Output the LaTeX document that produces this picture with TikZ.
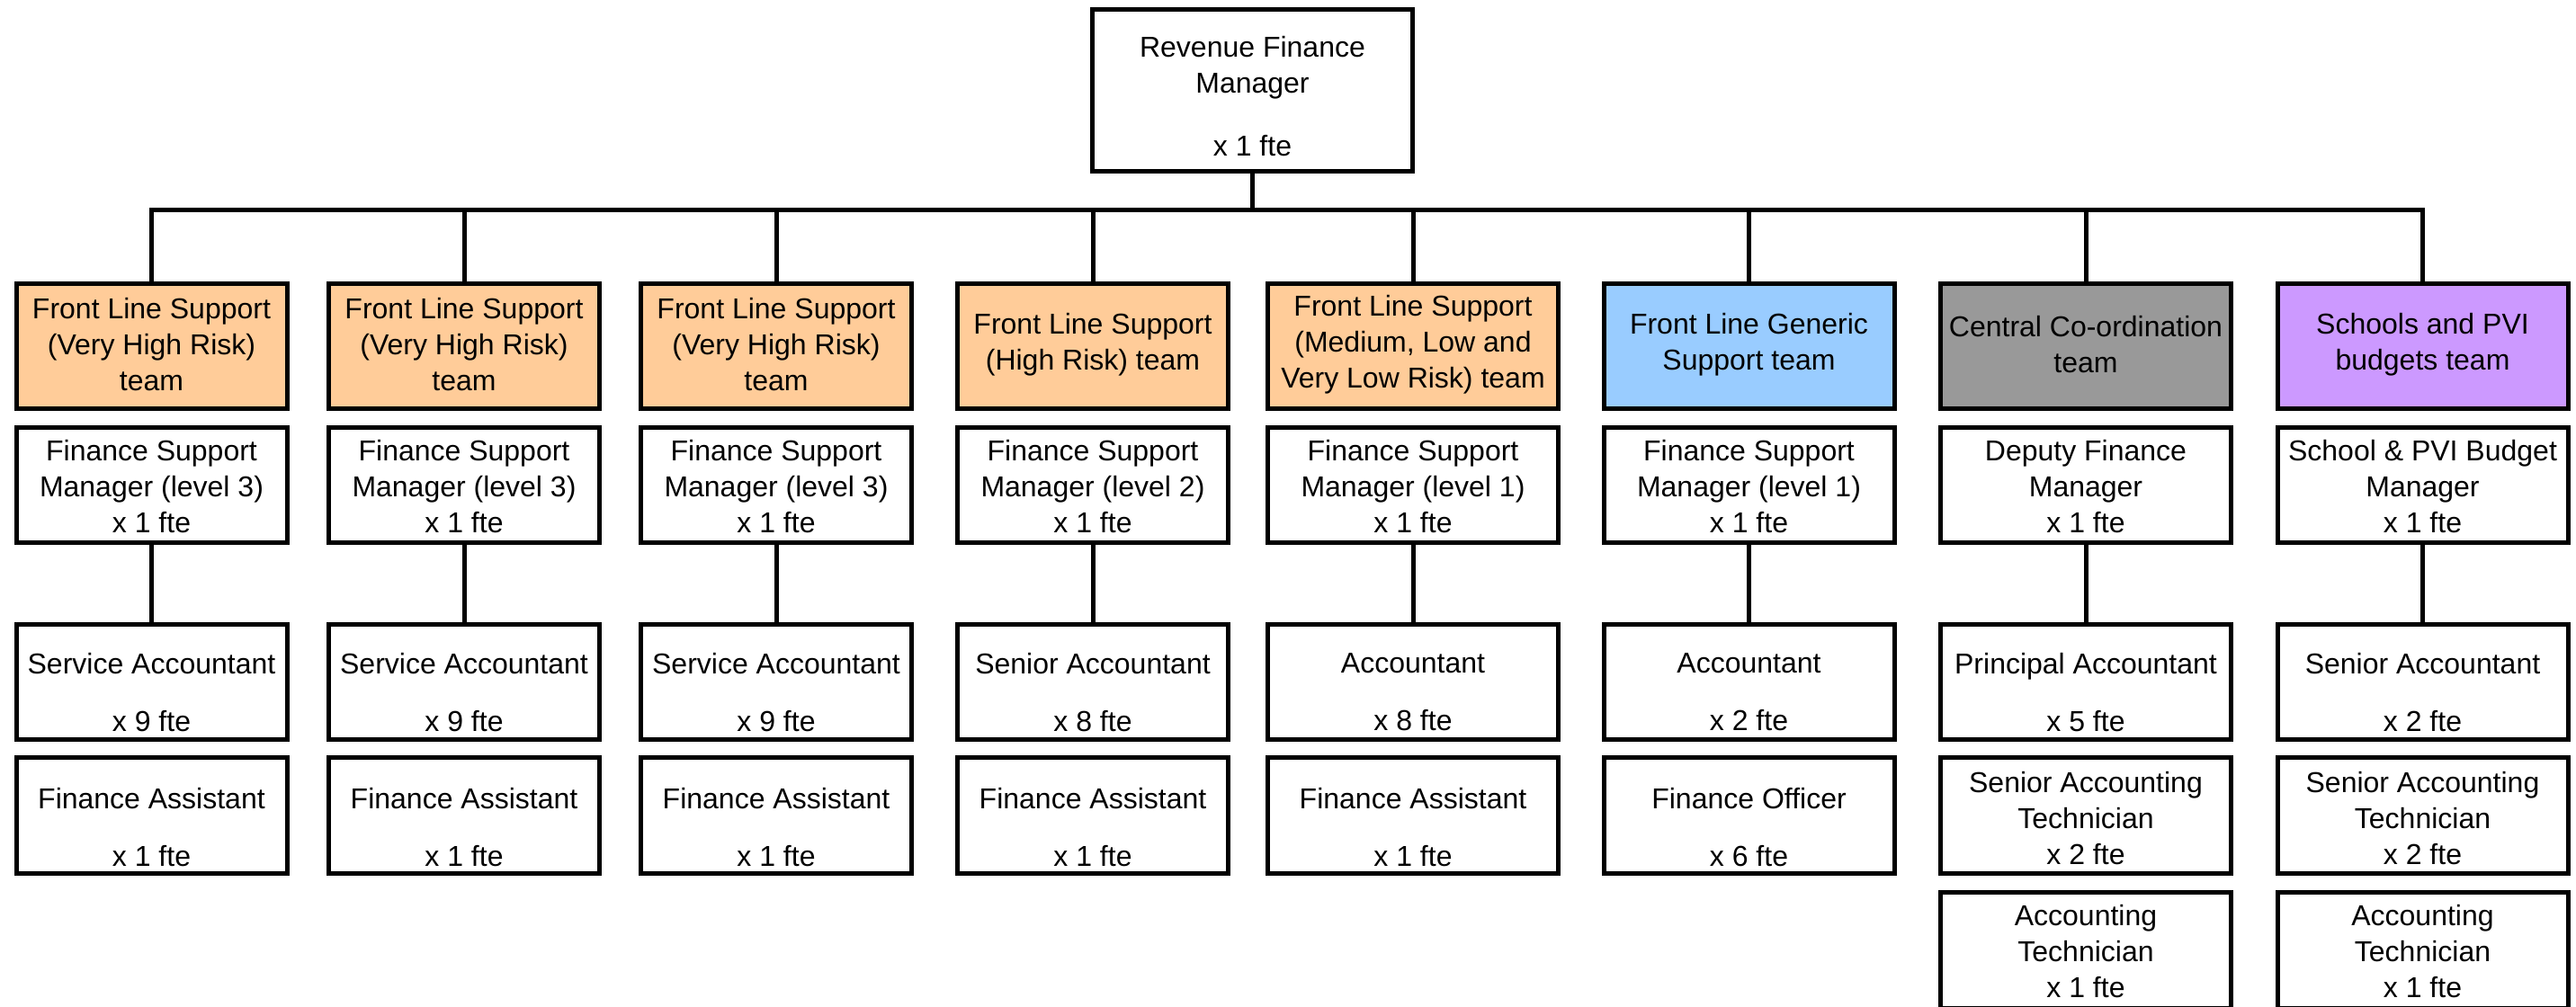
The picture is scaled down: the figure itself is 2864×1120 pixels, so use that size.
\documentclass[tikz,border=0pt]{standalone}
\usepackage{fontspec}
\setmainfont{Liberation Sans}
\definecolor{riskorange}{HTML}{FFCC99}
\definecolor{genericblue}{HTML}{99CCFF}
\definecolor{centralgrey}{HTML}{999999}
\definecolor{schoolviolet}{HTML}{CC99FF}

% box outline node plus its centred caption node
\newcommand\orgbox[6]{%
  \node[box,#2] (#1) at (#3,#4) {};
  \node[txt] (#1-t) at (#3,#5) {#6};}

\begin{document}
\begin{tikzpicture}[x=0.25pt,y=-0.25pt,
  every node/.style={inner sep=0pt,outer sep=0pt},
  box/.style={draw=black,line width=1.25pt,rectangle,fill=white},
  txt/.style={align=center,font=\fontsize{8pt}{10pt}\selectfont},
  narrowcol/.style={minimum width=75.25pt},
  widecol/.style={minimum width=80.75pt},
  teamrow/.style={minimum height=34.75pt},
  rolerow/.style={minimum height=32pt},
  subrow/.style={minimum height=32.25pt},
  link/.style={line width=1.25pt,line join=miter}]

\useasboundingbox (0,0) rectangle (2864,1120);
\clip (0,0) rectangle (2864,1120);

% head of service
\orgbox{top}{minimum width=89pt,minimum height=45pt}{1392.5}{100.5}{107}
  {Revenue Finance\\Manager\\[7.5pt]x 1 fte}

% team headers
\orgbox{t1}{narrowcol,teamrow,fill=riskorange}{168.5}{385}{383}{Front Line Support\\(Very High Risk)\\team}
\orgbox{t2}{narrowcol,teamrow,fill=riskorange}{516}{385}{383}{Front Line Support\\(Very High Risk)\\team}
\orgbox{t3}{narrowcol,teamrow,fill=riskorange}{863}{385}{383}{Front Line Support\\(Very High Risk)\\team}
\orgbox{t4}{narrowcol,teamrow,fill=riskorange}{1215}{385}{383}{Front Line Support\\(High Risk) team}
\orgbox{t5}{widecol,teamrow,fill=riskorange}{1571}{385}{383}{Front Line Support\\(Medium, Low and\\Very Low Risk) team}
\orgbox{t6}{widecol,teamrow,fill=genericblue}{1944.5}{385}{383}{Front Line Generic\\Support team}
\orgbox{t7}{widecol,teamrow,fill=centralgrey}{2319}{385}{383}{Central Co-ordination\\team}
\orgbox{t8}{widecol,teamrow,fill=schoolviolet}{2693.5}{385}{383}{Schools and PVI\\budgets team}

% team managers
\orgbox{m1}{narrowcol,rolerow}{168.5}{539.5}{541}{Finance Support\\Manager (level 3)\\x 1 fte}
\orgbox{m2}{narrowcol,rolerow}{516}{539.5}{541}{Finance Support\\Manager (level 3)\\x 1 fte}
\orgbox{m3}{narrowcol,rolerow}{863}{539.5}{541}{Finance Support\\Manager (level 3)\\x 1 fte}
\orgbox{m4}{narrowcol,rolerow}{1215}{539.5}{541}{Finance Support\\Manager (level 2)\\x 1 fte}
\orgbox{m5}{widecol,rolerow}{1571}{539.5}{541}{Finance Support\\Manager (level 1)\\x 1 fte}
\orgbox{m6}{widecol,rolerow}{1944.5}{539.5}{541}{Finance Support\\Manager (level 1)\\x 1 fte}
\orgbox{m7}{widecol,rolerow}{2319}{539.5}{541}{Deputy Finance\\Manager\\x 1 fte}
\orgbox{m8}{widecol,rolerow}{2693.5}{539.5}{541}{School \& PVI Budget\\Manager\\x 1 fte}

% accountants
\orgbox{a1}{narrowcol,rolerow}{168.5}{758.5}{770}{Service Accountant\\[6pt]x 9 fte}
\orgbox{a2}{narrowcol,rolerow}{516}{758.5}{770}{Service Accountant\\[6pt]x 9 fte}
\orgbox{a3}{narrowcol,rolerow}{863}{758.5}{770}{Service Accountant\\[6pt]x 9 fte}
\orgbox{a4}{narrowcol,rolerow}{1215}{758.5}{770}{Senior Accountant\\[6pt]x 8 fte}
\orgbox{a5}{widecol,rolerow}{1571}{758.5}{770}{Accountant\\[6pt]x 8 fte}
\orgbox{a6}{widecol,rolerow}{1944.5}{758.5}{770}{Accountant\\[6pt]x 2 fte}
\orgbox{a7}{widecol,rolerow}{2319}{758.5}{770}{Principal Accountant\\[6pt]x 5 fte}
\orgbox{a8}{widecol,rolerow}{2693.5}{758.5}{770}{Senior Accountant\\[6pt]x 2 fte}

% assistants and technicians
\orgbox{s1}{narrowcol,subrow}{168.5}{907}{920}{Finance Assistant\\[6pt]x 1 fte}
\orgbox{s2}{narrowcol,subrow}{516}{907}{920}{Finance Assistant\\[6pt]x 1 fte}
\orgbox{s3}{narrowcol,subrow}{863}{907}{920}{Finance Assistant\\[6pt]x 1 fte}
\orgbox{s4}{narrowcol,subrow}{1215}{907}{920}{Finance Assistant\\[6pt]x 1 fte}
\orgbox{s5}{widecol,subrow}{1571}{907}{920}{Finance Assistant\\[6pt]x 1 fte}
\orgbox{s6}{widecol,subrow}{1944.5}{907}{920}{Finance Officer\\[6pt]x 6 fte}
\orgbox{s7}{widecol,subrow}{2319}{907}{910}{Senior Accounting\\Technician\\x 2 fte}
\orgbox{s8}{widecol,subrow}{2693.5}{907}{910}{Senior Accounting\\Technician\\x 2 fte}

\orgbox{u7}{widecol,subrow}{2319}{1057}{1058}{Accounting\\Technician\\x 1 fte}
\orgbox{u8}{widecol,subrow}{2693.5}{1057}{1058}{Accounting\\Technician\\x 1 fte}

% reporting lines
\coordinate (bus) at (1392.5,234);
\draw[link] (top.south) -- (top.south |- bus);
\draw[link] (t1.north) -- (t1.north |- bus) -- (t8.north |- bus) -- (t8.north);
\foreach \t in {t2,t3,t4,t5,t6,t7}
  \draw[link] (\t.north |- bus) -- (\t.north);
\foreach \c in {1,...,8}
  \draw[link] (m\c.south) -- (a\c.north);
\end{tikzpicture}
\end{document}
